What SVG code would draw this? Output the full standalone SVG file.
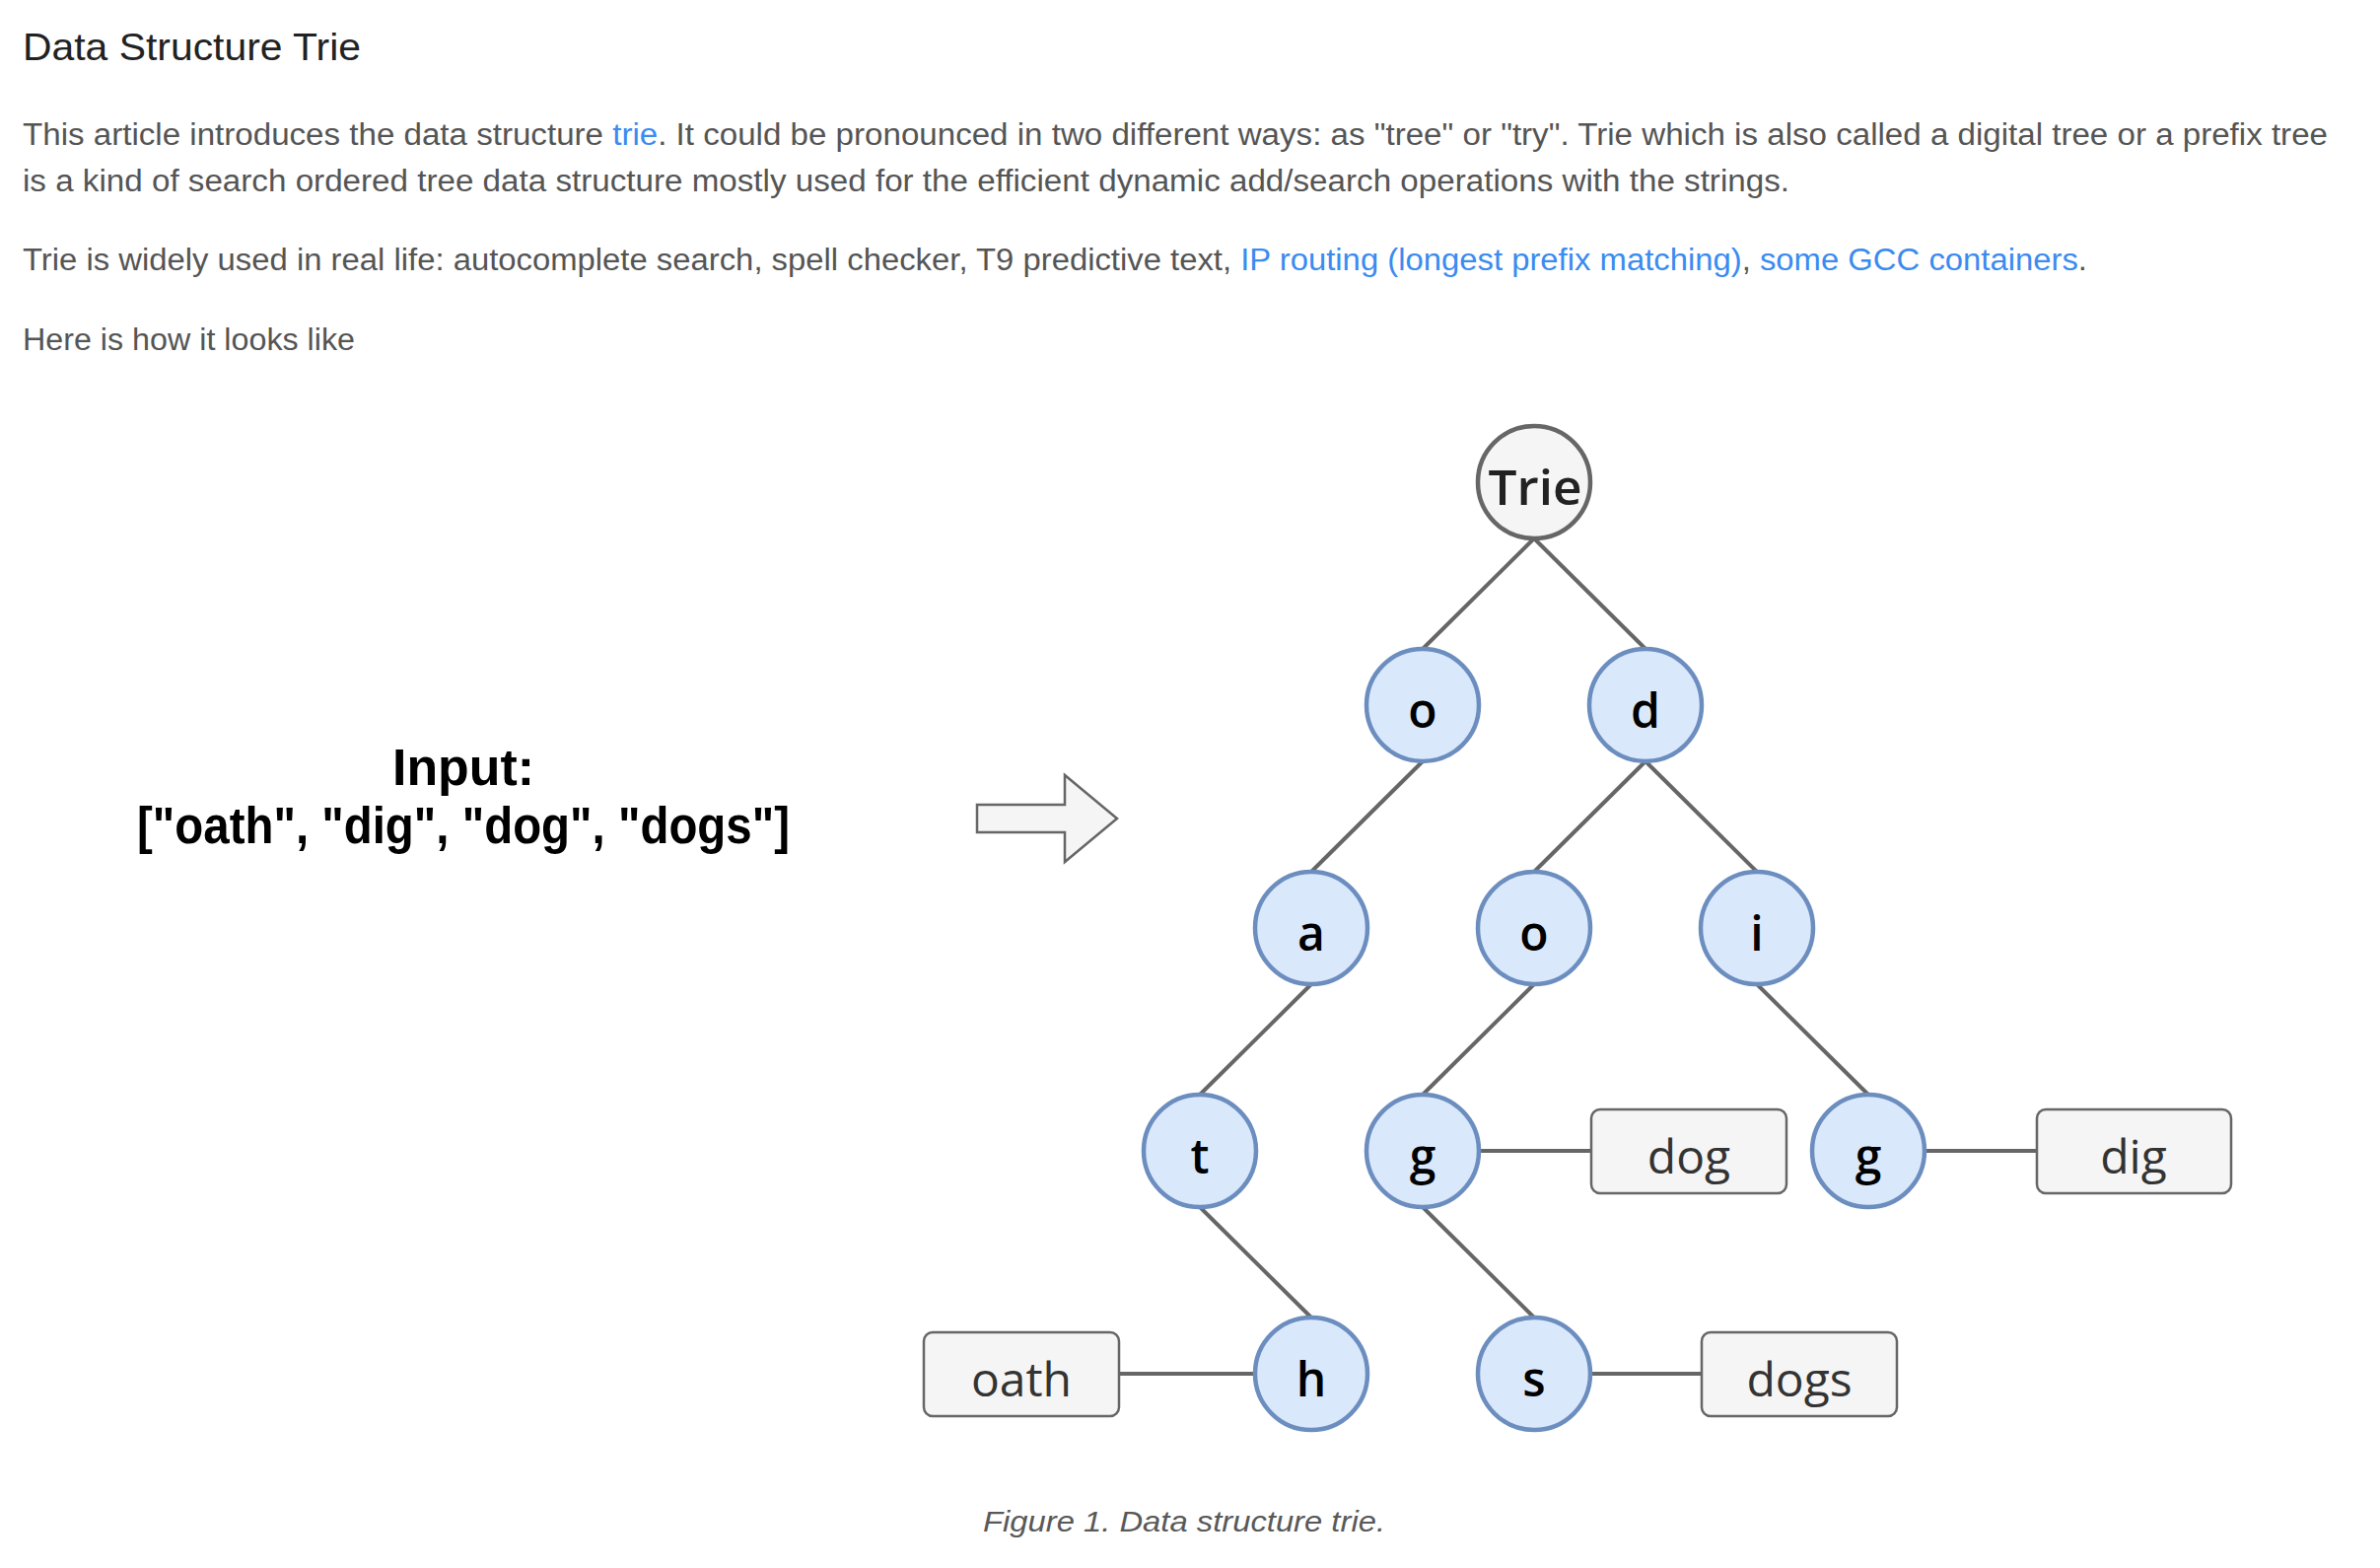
<svg xmlns="http://www.w3.org/2000/svg" width="2414" height="1590" viewBox="0 0 2414 1590">
<style>
.body{font-family:"Liberation Sans",Arial,sans-serif;font-size:31px;fill:#555555}
.link{fill:#3b8bf0}
.title{font-family:"Liberation Sans",Arial,sans-serif;font-size:39px;font-weight:500;fill:#222222}
.cap{font-family:"Liberation Sans",Arial,sans-serif;font-size:30px;font-style:italic;fill:#595959}
.node circle{fill:#dae8fc;stroke:#6c8ebf;stroke-width:4.5}
.node text{font-family:"Open Sans","Noto Sans",sans-serif;font-size:48px;font-weight:600;fill:#000000;text-anchor:middle}
.root circle{fill:#f5f5f5;stroke:#666666;stroke-width:4.5}
.root text{fill:#222222}
.leaf rect{fill:#f5f5f5;stroke:#666666;stroke-width:2.5}
.leaf text{font-family:"Open Sans","Noto Sans",sans-serif;font-size:48px;fill:#333333;text-anchor:middle}
.edges line{stroke:#666666;stroke-width:4;fill:none}
.input{font-family:"Liberation Sans",Arial,sans-serif;font-size:51px;font-weight:bold;fill:#000000;text-anchor:middle}
</style>
<rect x="0" y="0" width="2414" height="1590" fill="#ffffff"/>

<g id="article-text">
<text class="title" x="23" y="61" textLength="343" lengthAdjust="spacingAndGlyphs">Data Structure Trie</text>
<text class="body" x="23" y="147" textLength="2338" lengthAdjust="spacingAndGlyphs">This article introduces the data structure <tspan class="link">trie</tspan>. It could be pronounced in two different ways: as "tree" or "try". Trie which is also called a digital tree or a prefix tree</text>
<text class="body" x="23" y="194" textLength="1792" lengthAdjust="spacingAndGlyphs">is a kind of search ordered tree data structure mostly used for the efficient dynamic add/search operations with the strings.</text>
<text class="body" x="23" y="274" textLength="2094" lengthAdjust="spacingAndGlyphs">Trie is widely used in real life: autocomplete search, spell checker, T9 predictive text, <tspan class="link">IP routing (longest prefix matching)</tspan>, <tspan class="link">some GCC containers</tspan>.</text>
<text class="body" x="23" y="355" textLength="337" lengthAdjust="spacingAndGlyphs">Here is how it looks like</text>
</g>

<g id="input">
<text class="input" x="470" y="796" textLength="144" lengthAdjust="spacingAndGlyphs">Input:</text>
<text class="input" x="470" y="855" textLength="662" lengthAdjust="spacingAndGlyphs">["oath", "dig", "dog", "dogs"]</text>
</g>

<g id="arrow">
<polygon points="991,816 1080,816 1080,786 1133,830 1080,874 1080,844 991,844" fill="#f5f5f5" stroke="#666666" stroke-width="2.5"/>
</g>

<g id="connectors" class="edges">
<line x1="1556" y1="546" x2="1443" y2="658"/>
<line x1="1556" y1="546" x2="1669" y2="658"/>
<line x1="1443" y1="772" x2="1330" y2="884"/>
<line x1="1669" y1="772" x2="1556" y2="884"/>
<line x1="1669" y1="772" x2="1782" y2="884"/>
<line x1="1330" y1="998" x2="1217" y2="1110"/>
<line x1="1556" y1="998" x2="1443" y2="1110"/>
<line x1="1782" y1="998" x2="1895" y2="1110"/>
<line x1="1217" y1="1224" x2="1330" y2="1336"/>
<line x1="1443" y1="1224" x2="1556" y2="1336"/>
<line x1="1500" y1="1167" x2="1614" y2="1167"/>
<line x1="1952" y1="1167" x2="2066" y2="1167"/>
<line x1="1613" y1="1393" x2="1726" y2="1393"/>
<line x1="1135" y1="1393" x2="1273" y2="1393"/>
</g>

<g id="node-trie" class="root node"><circle cx="1556" cy="489" r="57"/><text x="1557" y="512" textLength="95" lengthAdjust="spacingAndGlyphs">Trie</text></g>
<g id="node-o1" class="node"><circle cx="1443" cy="715" r="57"/><text x="1443" y="738">o</text></g>
<g id="node-d" class="node"><circle cx="1669" cy="715" r="57"/><text x="1669" y="738">d</text></g>
<g id="node-a" class="node"><circle cx="1330" cy="941" r="57"/><text x="1330" y="964">a</text></g>
<g id="node-o2" class="node"><circle cx="1556" cy="941" r="57"/><text x="1556" y="964">o</text></g>
<g id="node-i" class="node"><circle cx="1782" cy="941" r="57"/><text x="1782" y="964">i</text></g>
<g id="node-t" class="node"><circle cx="1217" cy="1167" r="57"/><text x="1217" y="1190">t</text></g>
<g id="node-g1" class="node"><circle cx="1443" cy="1167" r="57"/><text x="1443" y="1190">g</text></g>
<g id="node-g2" class="node"><circle cx="1895" cy="1167" r="57"/><text x="1895" y="1190">g</text></g>
<g id="node-h" class="node"><circle cx="1330" cy="1393" r="57"/><text x="1330" y="1416">h</text></g>
<g id="node-s" class="node"><circle cx="1556" cy="1393" r="57"/><text x="1556" y="1416">s</text></g>

<g id="word-dog" class="leaf"><rect x="1614" y="1125" width="198" height="85" rx="9"/><text x="1713" y="1190">dog</text></g>
<g id="word-dig" class="leaf"><rect x="2066" y="1125" width="197" height="85" rx="9"/><text x="2164" y="1190">dig</text></g>
<g id="word-dogs" class="leaf"><rect x="1726" y="1351" width="198" height="85" rx="9"/><text x="1825" y="1416">dogs</text></g>
<g id="word-oath" class="leaf"><rect x="937" y="1351" width="198" height="85" rx="9"/><text x="1036" y="1416">oath</text></g>

<g id="caption">
<text class="cap" x="997" y="1553" textLength="408" lengthAdjust="spacingAndGlyphs">Figure 1. Data structure trie.</text>
</g>
</svg>
